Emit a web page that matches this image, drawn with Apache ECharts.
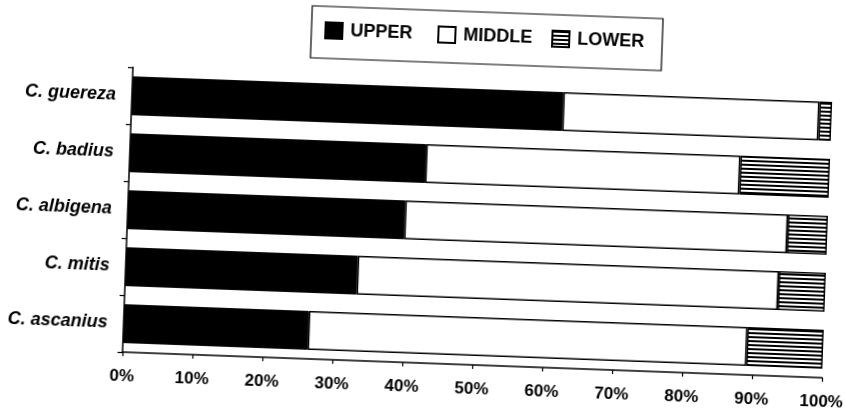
<!DOCTYPE html>
<html>
<head>
<meta charset="utf-8">
<script src="https://cdn.jsdelivr.net/npm/echarts@6/dist/echarts.min.js"></script>
<style>
  html, body { margin: 0; padding: 0; background: #fff; overflow: hidden; width: 846px; height: 416px; }
  #chart {
    width: 880px; height: 416px;
    transform: rotate(2.1deg);
    transform-origin: 423px 208px;
  }
</style>
</head>
<body>
<div id="chart"></div>
<script>
// Vertical distribution of foraging height per species (% of observations)
const categories = ['C. guereza', 'C. badius', 'C. albigena', 'C. mitis', 'C. ascanius'];
const upper  = [61.6, 42.3, 39.6, 33.1, 26.4];
const middle = [36.6, 44.9, 54.7, 60.2, 62.7];
const lower  = [1.8, 12.8, 5.7, 6.7, 10.9];
const seriesNames = ['UPPER', 'MIDDLE', 'LOWER'];
const xTickLabels = ['0%', '10%', '20%', '30%', '40%', '50%', '60%', '70%', '80%', '90%', '100%'];

// Horizontal line hatching for the LOWER segments
function makeHatch() {
  const c = document.createElement('canvas');
  c.width = 4; c.height = 4;
  const ctx = c.getContext('2d');
  ctx.fillStyle = '#fff';
  ctx.fillRect(0, 0, 4, 4);
  ctx.fillStyle = '#000';
  ctx.fillRect(0, 0, 4, 2);
  return c;
}

const font = "'Liberation Sans', Arial, sans-serif";
const legendLefts = [318, 431, 545];
const legendText = { fontFamily: font, fontWeight: 'bold', fontSize: 18, color: '#000', padding: [0, 0, 0, 3] };

const chart = echarts.init(document.getElementById('chart'), null, { renderer: 'canvas' });

chart.setOption({
  animation: false,
  backgroundColor: '#fff',
  // one legend entry per slot, evenly spaced inside a framed box
  legend: seriesNames.map((name, i) => ({
    data: [name],
    left: legendLefts[i], top: 25, padding: 0,
    itemWidth: 17, itemHeight: 16, icon: 'rect',
    textStyle: legendText
  })),
  graphic: [{
    type: 'rect',
    shape: { x: 305, y: 10, width: 351, height: 52 },
    style: { fill: 'none', stroke: '#000', lineWidth: 1.2 },
    silent: true
  }],
  grid: { left: 128, top: 78, width: 700, height: 285, outerBoundsMode: 'none', containLabel: false },
  xAxis: {
    type: 'value', min: 0, max: 100, interval: 10,
    axisLine: { show: true, lineStyle: { color: '#000', width: 1.5 } },
    axisTick: { show: true, length: 4, lineStyle: { color: '#000', width: 1.2 } },
    splitLine: { show: false },
    axisLabel: {
      formatter: v => xTickLabels[Math.round(v / 10)], margin: 16,
      fontFamily: font, fontWeight: 'bold', fontSize: 17, color: '#000'
    }
  },
  yAxis: {
    type: 'category', inverse: true, data: categories,
    axisLine: { show: true, lineStyle: { color: '#000', width: 1.5 } },
    axisTick: { show: true, length: 5, lineStyle: { color: '#000', width: 1.2 } },
    axisLabel: {
      margin: 16,
      fontFamily: font, fontWeight: 'bold', fontStyle: 'italic', fontSize: 18, color: '#000'
    }
  },
  series: [
    {
      name: seriesNames[0], type: 'bar', stack: 'total', data: upper,
      barCategoryGap: '32%',
      itemStyle: { color: '#000', borderColor: '#000', borderWidth: 1 }
    },
    {
      name: seriesNames[1], type: 'bar', stack: 'total', data: middle,
      itemStyle: { color: '#fff', borderColor: '#000', borderWidth: 1.5 }
    },
    {
      name: seriesNames[2], type: 'bar', stack: 'total', data: lower,
      itemStyle: {
        color: { image: makeHatch(), repeat: 'repeat' },
        borderColor: '#000', borderWidth: 1.5
      }
    }
  ]
});
</script>
</body>
</html>
